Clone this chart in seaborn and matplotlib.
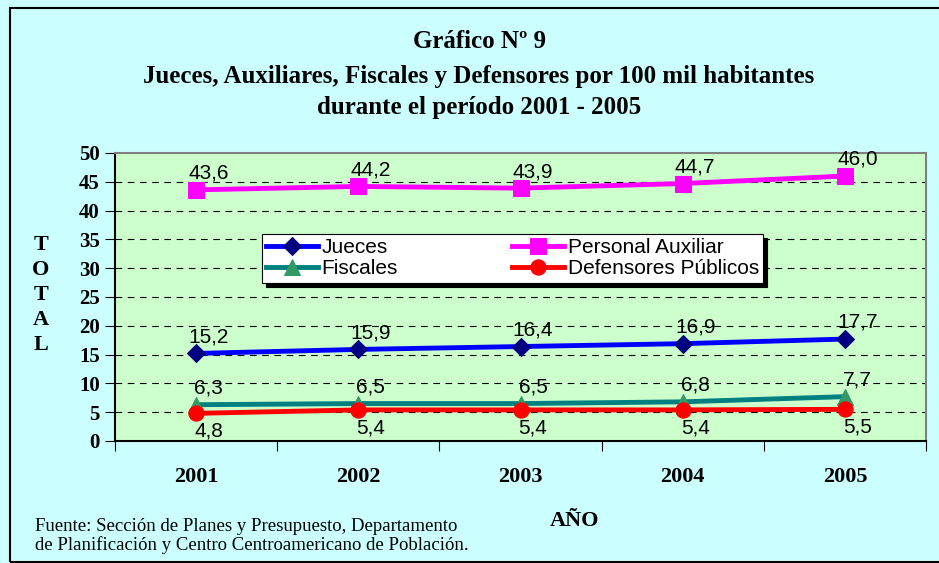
import numpy as np
import pandas as pd
import matplotlib
matplotlib.use('Agg')
import matplotlib.pyplot as plt
import seaborn as sns
from matplotlib.patches import Rectangle
from matplotlib.ticker import FixedLocator, NullFormatter, FixedFormatter

years = [2001, 2002, 2003, 2004, 2005]
jueces = [15.2, 15.9, 16.4, 16.9, 17.7]
auxiliar = [43.6, 44.2, 43.9, 44.7, 46.0]
fiscales = [6.3, 6.5, 6.5, 6.8, 7.7]
defensores = [4.8, 5.4, 5.4, 5.4, 5.5]

series = [
    # name, values, line colour, marker, marker colour, marker size, label above?
    ('Jueces', jueces, '#0000FF', 'D', '#000080', 9, True),
    ('Fiscales', fiscales, '#008080', '^', '#339966', 11, True),
    ('Personal Auxiliar', auxiliar, '#FF00FF', 's', '#FF00FF', 11, True),
    ('Defensores Públicos', defensores, '#FF0000', 'o', '#FF0000', 11, False),
]

serif = 'Liberation Serif'
sans = 'Liberation Sans'

fig = plt.figure(figsize=(9.39, 5.63), dpi=100)
fig.patch.set_facecolor('#CCFFFF')
fig.patches.append(Rectangle((10/939, 1/563), 1.0, 1 - 9/563, transform=fig.transFigure,
                             fill=False, edgecolor='black', lw=1.5))

ax = fig.add_axes([115/939, 1 - 441/563, 811/939, 288/563])
ax.set_facecolor('#CCFFCC')

for name, vals, col, mk, mcol, ms, above in series:
    df = pd.DataFrame({'year': years, 'val': vals})
    sns.lineplot(data=df, x='year', y='val', ax=ax, color=col, lw=3.5,
                 marker=mk, markersize=ms, markerfacecolor=mcol, markeredgecolor=mcol,
                 label=name, zorder=3)
    for x, v in zip(years, vals):
        txt = f'{v:.1f}'.replace('.', ',')
        if above:
            ax.annotate(txt, (x, v), xytext=(9, 8), textcoords='offset points',
                        ha='center', va='baseline', fontsize=15, family=sans)
        else:
            ax.annotate(txt, (x, v), xytext=(9, -6), textcoords='offset points',
                        ha='center', va='top', fontsize=15, family=sans)

ax.set_xlim(2000.5, 2005.5)
ax.set_ylim(0, 50)
ax.set_yticks(range(0, 51, 5))
ax.set_yticklabels([str(t) for t in range(0, 51, 5)])
for t in range(5, 50, 5):
    ax.axhline(t, color='black', lw=0.8, ls=(0, (6, 5)), zorder=1)

ax.xaxis.set_major_locator(FixedLocator([y - 0.5 for y in years] + [years[-1] + 0.5]))
ax.xaxis.set_major_formatter(NullFormatter())
ax.xaxis.set_minor_locator(FixedLocator(years))
ax.xaxis.set_minor_formatter(FixedFormatter([str(y) for y in years]))
ax.tick_params(axis='x', which='major', direction='out', length=7, color='black')
ax.tick_params(axis='x', which='minor', length=0, pad=19)
ax.tick_params(axis='y', direction='out', length=7, pad=4)
for lab in ax.get_yticklabels():
    lab.set_fontfamily(serif)
    lab.set_fontweight('bold')
    lab.set_fontsize(15)
for lab in ax.xaxis.get_minorticklabels():
    lab.set_fontfamily(serif)
    lab.set_fontweight('bold')
    lab.set_fontsize(16)

ax.set_xlabel('')
ax.set_ylabel('')
ax.spines['left'].set_color('black')
ax.spines['bottom'].set_color('black')
ax.spines['top'].set_color('#808080')
ax.spines['right'].set_color('#808080')
for s in ax.spines.values():
    s.set_linewidth(1.5)

h, l = ax.get_legend_handles_labels()
leg = ax.legend(h, l, ncol=2, loc='center', mode='expand',
                bbox_to_anchor=(0.181, 0.542, 0.618, 0.184),
                prop={'family': sans, 'size': 15}, frameon=True, fancybox=False,
                edgecolor='black', facecolor='white', framealpha=1,
                shadow={'ox': 3, 'oy': -3, 'facecolor': 'black', 'edgecolor': 'black', 'alpha': 1},
                handlelength=2.5, handletextpad=0.15, borderpad=0.2, labelspacing=0.1,
                columnspacing=1.0, borderaxespad=0)
leg.get_frame().set_linewidth(0.8)

fig.text(479/939, 1 - 42/563, 'Gráfico Nº 9', ha='center', va='center',
         family=serif, weight='bold', fontsize=18)
fig.text(479/939, 1 - 76/563, 'Jueces, Auxiliares, Fiscales y Defensores por 100 mil habitantes',
         ha='center', va='center', family=serif, weight='bold', fontsize=18)
fig.text(479/939, 1 - 108/563, 'durante el período 2001 - 2005', ha='center', va='center',
         family=serif, weight='bold', fontsize=18)

fig.text(41/939, 1 - 295/563, 'T\nO\nT\nA\nL', ha='center', va='center', family=serif,
         weight='bold', fontsize=16, linespacing=1.35)
fig.text(575/939, 1 - 521/563, 'AÑO', ha='center', va='center', family=serif,
         weight='bold', fontsize=16)
fig.text(35/939, 1 - 536/563, 'Fuente: Sección de Planes y Presupuesto, Departamento\n'
         'de Planificación y Centro Centroamericano de Población.',
         ha='left', va='center', family=serif, fontsize=13.5, linespacing=1.1)

fig.savefig('out.png', dpi=100, facecolor=fig.get_facecolor())
